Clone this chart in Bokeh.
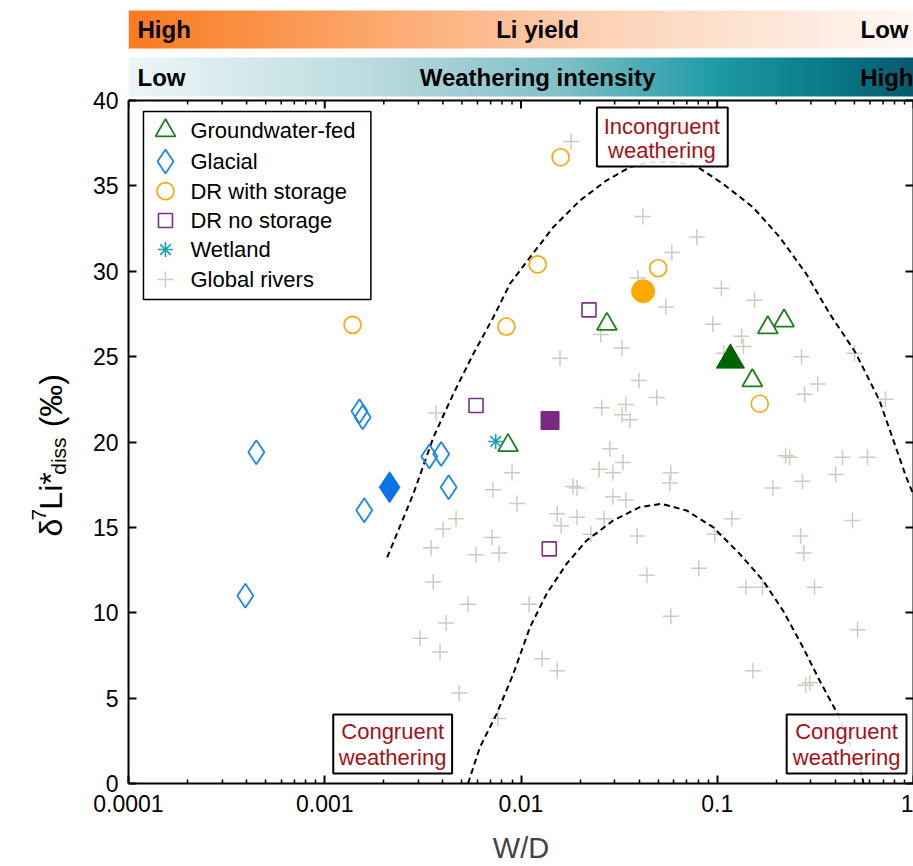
import numpy as np
from bokeh.plotting import figure
from bokeh.layouts import row
from bokeh.models import Range1d, LinearAxis, FixedTicker, CustomJSTickFormatter
from bokeh.core.properties import value
from bokeh.embed import file_html
from bokeh.resources import INLINE

FONT = "Liberation Sans"

# ---------------- data ----------------
# Groundwater-fed catchments (open) and mean (filled)
gw_wd = [0.0274, 0.00859, 0.181, 0.219, 0.151]
gw_li = [26.9, 19.8, 26.7, 27.1, 23.6]
gw_mean_wd = [0.1167]
gw_mean_li = [24.8]

# Glacial catchments
gl_wd = [0.000448, 0.000394, 0.001503, 0.00156, 0.00159, 0.00341, 0.00392, 0.00428]
gl_li = [19.4, 11.0, 21.8, 21.45, 16.0, 19.15, 19.3, 17.35]
gl_mean_wd = [0.00214]
gl_mean_li = [17.35]

# Dominant rivers with storage
drs_wd = [0.001385, 0.00842, 0.01216, 0.01592, 0.0500, 0.1646]
drs_li = [26.86, 26.76, 30.4, 36.68, 30.18, 22.24]
drs_mean_wd = [0.0419]
drs_mean_li = [28.83]

# Dominant rivers without storage
drn_wd = [0.0059, 0.0222, 0.01393]
drn_li = [22.14, 27.74, 13.74]
drn_mean_wd = [0.01406]
drn_mean_li = [21.26]

# Wetland
wet_wd = [0.00743]
wet_li = [20.03]

# Global rivers compilation
gr_wd = [0.0180, 0.0418, 0.0787, 0.0587, 0.0394, 0.0547, 0.105, 0.155, 0.0949, 0.0255,
         0.0327, 0.0158, 0.133, 0.136, 0.108, 0.269, 0.501, 0.325, 0.279, 0.720,
         0.0492, 0.0399, 0.0258, 0.0342, 0.0327, 0.0359, 0.00369, 0.0284, 0.0331, 0.0250,
         0.0294, 0.0090, 0.0072, 0.0184, 0.0193, 0.00954, 0.0294, 0.0342, 0.00467, 0.00401,
         0.0153, 0.0160, 0.0193, 0.0265, 0.00712, 0.0227, 0.0390, 0.00773, 0.0059, 0.0438,
         0.0580, 0.0573, 0.0580, 0.0805, 0.0971, 0.1185, 0.140, 0.170, 0.152, 0.192,
         0.223, 0.234, 0.272, 0.266, 0.276, 0.313, 0.401, 0.435, 0.583, 0.489,
         0.519, 0.282, 0.296, 0.00764, 0.0128, 0.0153, 0.0110, 0.00348, 0.00357, 0.00537,
         0.00415, 0.00306, 0.00387, 0.00484]
gr_li = [37.6, 33.2, 32.0, 31.1, 29.6, 27.9, 29.0, 28.3, 26.9, 26.3,
         25.5, 24.9, 26.2, 25.6, 25.2, 25.0, 25.2, 23.4, 22.8, 22.5,
         22.6, 23.6, 22.0, 22.2, 21.6, 21.3, 21.7, 19.6, 18.8, 18.4,
         18.2, 18.2, 17.2, 17.4, 17.3, 16.4, 16.8, 16.6, 15.5, 14.9,
         15.8, 15.1, 15.6, 15.5, 14.4, 14.6, 14.5, 13.5, 13.4, 12.2,
         18.2, 17.6, 9.8, 12.6, 14.6, 15.5, 11.5, 11.5, 6.6, 17.3,
         19.2, 19.1, 17.7, 14.5, 13.5, 11.5, 18.1, 19.1, 19.1, 15.4,
         9.0, 5.75, 5.9, 3.8, 7.3, 6.6, 10.5, 13.8, 11.8, 10.5,
         9.4, 8.5, 7.7, 5.3]

# Weathering-regime envelopes
upper_wd = [0.00208, 0.00283, 0.00358, 0.00452, 0.00572, 0.00723, 0.00879, 0.01112, 0.0146,
            0.01996, 0.02729, 0.03587, 0.0437, 0.0525, 0.0646, 0.0783, 0.107, 0.152, 0.208,
            0.284, 0.374, 0.505, 0.671, 0.918, 1.0]
upper_li = [13.24, 16.97, 20.28, 22.82, 25.17, 27.31, 29.27, 30.82, 32.58,
            34.14, 35.32, 36.09, 36.35, 36.42, 36.35, 36.15, 35.12, 33.75, 32.0,
            29.85, 27.51, 25.26, 22.43, 17.94, 16.9]
lower_wd = [0.00537, 0.00618, 0.00752, 0.00914, 0.01111, 0.01351, 0.01708, 0.02159, 0.02949,
            0.04031, 0.0520, 0.0697, 0.0952, 0.1302, 0.171, 0.2163, 0.2733, 0.3323, 0.412,
            0.5418, 0.556]
lower_li = [0.0, 2.13, 4.08, 6.42, 9.15, 11.11, 12.87, 14.23, 15.40,
            16.18, 16.38, 15.99, 15.01, 13.45, 11.89, 10.13, 7.98, 6.03, 4.04,
            0.66, 0.0]

x_ticks = [0.0001, 0.001, 0.01, 0.1, 1]
x_tick_labels = ["0.0001", "0.001", "0.01", "0.1", "1"]
y_ticks = [0, 5, 10, 15, 20, 25, 30, 35, 40]
legend_labels = ["Groundwater-fed", "Glacial", "DR with storage", "DR no storage",
                 "Wetland", "Global rivers"]

# ---------------- colours ----------------
GW, GW_FILL = "#1f7f1f", "#006400"
GL, GL_FILL = "#1a86f0", "#0a74e6"
DRS, DRS_FILL = "#ffa500", "#ffaa00"
DRN, DRN_FILL = "#7d2e8d", "#7a2a80"
WET = "#15a0b5"
GR = "#d2cac1"
RED = "#a80f16"

# ---------------- geometry ----------------
Y_MIN, Y_MAX = 0, 40
DATA_PX = 683                      # height of the 0-40 data band
PPU = DATA_PX / (Y_MAX - Y_MIN)    # pixels per permil
HEAD_PX = 92                       # header band above the data band
X_DECADES = 4
FRAME_W = 785
STRIP_W = 80                       # strip holding the vertical axis title


def y_above(px):
    """Data y for a point px pixels above the top of the data band."""
    return Y_MAX + px / PPU


def y_below_top(px):
    return Y_MAX - px / PPU


def x_at(px):
    """Data x for a point px pixels right of the left frame edge."""
    return 10 ** (-X_DECADES + px * X_DECADES / FRAME_W)


# ---------------- gradient header ----------------
def hex_rgb(h):
    h = h.lstrip("#")
    return [int(h[i:i + 2], 16) for i in (0, 2, 4)]


def gradient(stops, n=400):
    pos = np.linspace(0, 1, n)
    sp = [s for s, _ in stops]
    cols = np.array([hex_rgb(c) for _, c in stops], dtype=float)
    img = np.empty((1, n), dtype=np.uint32)
    view = img.view(dtype=np.uint8).reshape((1, n, 4))
    for k in range(3):
        view[0, :, k] = np.interp(pos, sp, cols[:, k]).astype(np.uint8)
    view[0, :, 3] = 255
    return img


orange_img = gradient([(0, "#f97a20"), (0.3, "#fca66a"), (0.6, "#fdd2b6"), (1, "#fff8f5")])
teal_img = gradient([(0, "#eef6f7"), (0.3, "#bcdce0"), (0.55, "#82c0c8"),
                     (0.75, "#1e9ba6"), (0.9, "#087887"), (1, "#0a5a6e")])

# ---------------- main figure ----------------
p = figure(width=913 - STRIP_W, height=866, x_axis_type="log", x_range=Range1d(1e-4, 1),
           y_range=Range1d(Y_MIN, y_above(HEAD_PX)), output_backend="svg",
           toolbar_location=None, min_border_left=128 - STRIP_W, min_border_right=0,
           min_border_top=8, min_border_bottom=83)
p.grid.visible = False
p.outline_line_color = None
p.background_fill_color = "white"
p.border_fill_color = "white"

# header bars
p.image_rgba(image=[orange_img], x=1e-4, y=y_above(52), dw=1 - 1e-4, dh=38 / PPU)
p.image_rgba(image=[teal_img], x=1e-4, y=y_above(4), dw=1 - 1e-4, dh=39 / PPU)
hdr = dict(text_font=value(FONT), text_font_style="bold", text_font_size="24px",
           text_baseline="middle", text_color="black")
p.text(x=[x_at(9), x_at(9)], y=[y_above(71), y_above(23)], text=["High", "Low"],
       text_align="left", **hdr)
p.text(x=[x_at(409), x_at(409)], y=[y_above(71), y_above(23)],
       text=["Li yield", "Weathering intensity"], text_align="center", **hdr)
p.text(x=[x_at(780), 1.0], y=[y_above(71), y_above(23)], text=["Low", "High"],
       text_align="right", **hdr)

x_minor = [m * 10.0 ** e for e in range(-4, 0) for m in range(2, 10)]
overrides = {t: lab for t, lab in zip(x_ticks, x_tick_labels)}


def style_axis(ax, labels=True, minor=True):
    ax.axis_line_width = 2
    ax.axis_line_color = "black"
    ax.major_tick_line_width = 2
    ax.major_tick_line_color = "black"
    ax.major_tick_in = 8
    ax.major_tick_out = 0
    ax.minor_tick_in = 4
    ax.minor_tick_out = 0
    ax.minor_tick_line_width = 1.5
    ax.minor_tick_line_color = "black" if minor else None
    ax.major_label_text_font = FONT
    ax.major_label_text_color = "black"
    if labels:
        ax.major_label_text_font_size = "23px"
    else:
        ax.formatter = CustomJSTickFormatter(code="return ''")
        ax.major_label_text_font_size = "1px"
        ax.major_label_standoff = 0


xax = p.xaxis[0]
xax.ticker = FixedTicker(ticks=x_ticks, minor_ticks=x_minor)
xax.major_label_overrides = overrides
style_axis(xax)
xax.major_label_standoff = 11
xax.axis_label = "W/D"
xax.axis_label_text_font = FONT
xax.axis_label_text_font_style = "normal"
xax.axis_label_text_font_size = "29px"
xax.axis_label_standoff = 17

yax = p.yaxis[0]
yax.ticker = FixedTicker(ticks=y_ticks)
yax.bounds = (Y_MIN, Y_MAX)
style_axis(yax, minor=False)
yax.major_label_standoff = 10

right_ax = LinearAxis(ticker=FixedTicker(ticks=y_ticks), bounds=(Y_MIN, Y_MAX))
style_axis(right_ax, labels=False, minor=False)
p.add_layout(right_ax, "right")

# top border of the data band with inward ticks
p.segment(x0=[1e-4], x1=[1.0], y0=[Y_MAX], y1=[Y_MAX], line_color="black", line_width=2)
p.segment(x0=x_ticks, x1=x_ticks, y0=[Y_MAX] * len(x_ticks),
          y1=[y_below_top(8)] * len(x_ticks), line_color="black", line_width=2)
p.segment(x0=x_minor, x1=x_minor, y0=[Y_MAX] * len(x_minor),
          y1=[y_below_top(4)] * len(x_minor), line_color="black", line_width=1.5)

# global rivers underneath
p.scatter(gr_wd, gr_li, marker="cross", size=16, line_color=GR, line_width=1.5)

# envelopes
p.line(upper_wd, upper_li, line_color="black", line_width=2, line_dash="6 4")
p.line(lower_wd, lower_li, line_color="black", line_width=2, line_dash="6 4")

# catchment types
p.scatter(gw_wd, gw_li, marker="triangle", size=20, line_color=GW, fill_color=None, line_width=1.8)
p.scatter(gl_wd, gl_li, marker="diamond", size=24, line_color=GL, fill_color=None, line_width=1.8)
p.scatter(drs_wd, drs_li, marker="circle", size=17, line_color=DRS, fill_color=None, line_width=1.6)
p.scatter(drn_wd, drn_li, marker="square", size=14, line_color=DRN, fill_color=None, line_width=1.6)
p.scatter(wet_wd, wet_li, marker="asterisk", size=15, line_color=WET, line_width=1.6)

p.scatter(gw_mean_wd, gw_mean_li, marker="triangle", size=28, color=GW_FILL)
p.scatter(gl_mean_wd, gl_mean_li, marker="diamond", size=31, color=GL_FILL)
p.scatter(drs_mean_wd, drs_mean_li, marker="circle", size=23, color=DRS_FILL)
p.scatter(drn_mean_wd, drn_mean_li, marker="square", size=18, color=DRN_FILL)

# regime boxes
boxes = [(0.02436, 0.1131, 36.13, 39.59, 0.0522, 38.5, 37.05, "Incongruent"),
         (0.001105, 0.004456, 0.59, 4.04, 0.002218, 3.05, 1.52, "Congruent"),
         (0.2258, 0.921, 0.59, 4.04, 0.456, 3.05, 1.52, "Congruent")]
for l, r, b, t, cx, y1, y2, word in boxes:
    p.quad(left=[l], right=[r], bottom=[b], top=[t], fill_color="white",
           fill_alpha=0.88, line_color="black", line_width=2)
    p.text(x=[cx, cx], y=[y1, y2], text=[word, "weathering"], text_align="center",
           text_baseline="middle", text_font=value(FONT), text_font_size="22px",
           text_color=RED)

# legend
leg_left, leg_right, leg_bottom, leg_top = 1.192e-4, 1.718e-3, 28.35, 39.36
p.quad(left=[leg_left], right=[leg_right], bottom=[leg_bottom], top=[leg_top],
       fill_color="white", line_color="black", line_width=1.5)
leg_y = [38.24, 36.43, 34.69, 32.97, 31.27, 29.52]
mx, tx = 1.543e-4, 2.068e-4
p.scatter([mx], [leg_y[0]], marker="triangle", size=20, line_color=GW, fill_color=None, line_width=1.8)
p.scatter([mx], [leg_y[1]], marker="diamond", size=24, line_color=GL, fill_color=None, line_width=1.8)
p.scatter([mx], [leg_y[2]], marker="circle", size=17, line_color=DRS, fill_color=None, line_width=1.6)
p.scatter([mx], [leg_y[3]], marker="square", size=14, line_color=DRN, fill_color=None, line_width=1.6)
p.scatter([mx], [leg_y[4]], marker="asterisk", size=15, line_color=WET, line_width=1.6)
p.scatter([mx], [leg_y[5]], marker="cross", size=16, line_color=GR, line_width=1.5)
p.text(x=[tx] * 6, y=leg_y, text=legend_labels, text_align="left", text_baseline="middle",
       text_font=value(FONT), text_font_size="22px", text_color="black")

# ---------------- y-axis title strip ----------------
lab = figure(width=STRIP_W, height=866, x_range=Range1d(0, STRIP_W), y_range=Range1d(0, 866),
             x_axis_type=None, y_axis_type=None, output_backend="svg",
             toolbar_location=None, min_border=0)
lab.outline_line_color = None
lab.grid.visible = False
# pieces: delta, superscript 7, Li*, subscript diss, (permil); y measured up from the bottom
ylab_text = ["δ", "7", "Li*", "diss", "(‰)"]
ylab_x = [50, 38, 50, 58, 50]
ylab_y = [276, 294, 306, 345, 398]
ylab_size = ["32px", "21px", "32px", "21px", "32px"]
for t, lx, ly, fs in zip(ylab_text, ylab_x, ylab_y, ylab_size):
    lab.text(x=[lx], y=[ly], text=[t], angle=np.pi / 2, text_align="left",
             text_baseline="alphabetic", text_font=value(FONT), text_font_size=fs,
             text_color="black")

layout = row(lab, p, spacing=0)
open("out.html", "w").write(file_html(layout, INLINE))
